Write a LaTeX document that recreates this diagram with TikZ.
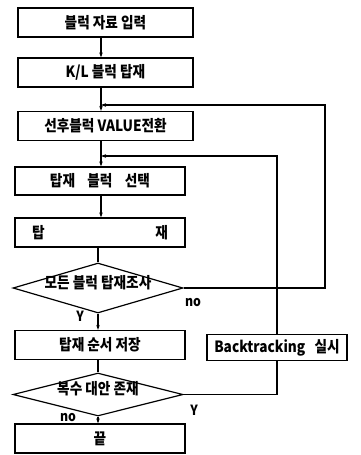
\documentclass[tikz,border=0pt]{standalone}
\usepackage{fontspec}
\newfontfamily\kr{Noto Sans CJK KR}[FakeStretch=0.88]
\usetikzlibrary{shapes.geometric,arrows.meta}
\begin{document}
\begin{tikzpicture}[x=1pt,y=1pt,
  every node/.style={font=\kr\bfseries\fontsize{15.5}{17}\selectfont},
  proc/.style={draw, line width=1.2pt, rectangle, inner sep=0pt},
  dec/.style={draw, line width=1.2pt, diamond, inner sep=0pt},
  ln/.style={line width=1.2pt},
  arr/.style={line width=1.2pt, -{Stealth[length=5pt,width=3.5pt]}},
  lbl/.style={font=\kr\bfseries\fontsize{14}{16}\selectfont, inner sep=0pt}]
\useasboundingbox (0,0) rectangle (361,-455);
\coordinate (sp) at (101,0);
\node[proc, minimum width=175, minimum height=29] (b1) at (105.5,-22.5) {블럭 자료 입력};
\node[proc, minimum width=175, minimum height=29] (b2) at (105.5,-72.5) {K/L 블럭 탑재};
\node[proc, minimum width=175, minimum height=29] (b3) at (105.5,-126) {선후블럭 VALUE전환};
\node[proc, minimum width=170, minimum height=28] (b4) at (100,-181) {탑재\hspace{0.8em}블럭\hspace{0.8em}선택};
\node[proc, minimum width=170, minimum height=29] (b5) at (100,-232.5) {\makebox[136pt]{탑\hfill 재}};
\node[dec, minimum width=170, minimum height=50] (d1) at (98,-288) {\smash{\makebox[0pt]{모든 블럭 탑재조사}}};
\node[proc, minimum width=170, minimum height=29] (b6) at (100,-345) {탑재 순서 저장};
\node[proc, minimum width=140, minimum height=26] (bt) at (277,-347.5) {Backtracking\hspace{0.6em}실시};
\node[dec, minimum width=170, minimum height=43] (d2) at (98,-394.5) {\smash{\makebox[0pt]{복수 대안 존재}}};
\node[proc, minimum width=170, minimum height=29] (b7) at (100,-438.5) {끝};
\node[lbl] (ln1) at (193,-303) {no};
\node[lbl] (ly1) at (80,-316) {Y};
\node[lbl] (ly2) at (194,-410) {Y};
\node[lbl] (ln2) at (68,-418) {no};
\coordinate (l1) at (101,-105);
\coordinate (l2) at (101,-156);
\coordinate (r1) at (325,-105);
\draw[arr] (b1.south -| sp) -- (b2.north -| sp);
\draw[arr] (b2.south -| sp) -- (b3.north -| sp);
\draw[arr] (b3.south -| sp) -- (b4.north -| sp);
\draw[arr] (b4.south -| sp) -- (b5.north -| sp);
\draw[ln] (b5.south -| d1.north) -- (d1.north);
\draw[arr] (d1.south) -- (b6.north -| d1.south);
\draw[ln] (b6.south -| d2.north) -- (d2.north);
\draw[arr] (d2.south) -- (b7.north -| d2.south);
\draw[arr] (d1.east) -| (r1) -- (l1);
\draw[arr] (bt.north) |- (l2);
\draw[ln] (d2.east) -| (bt.south);
\end{tikzpicture}
\end{document}
